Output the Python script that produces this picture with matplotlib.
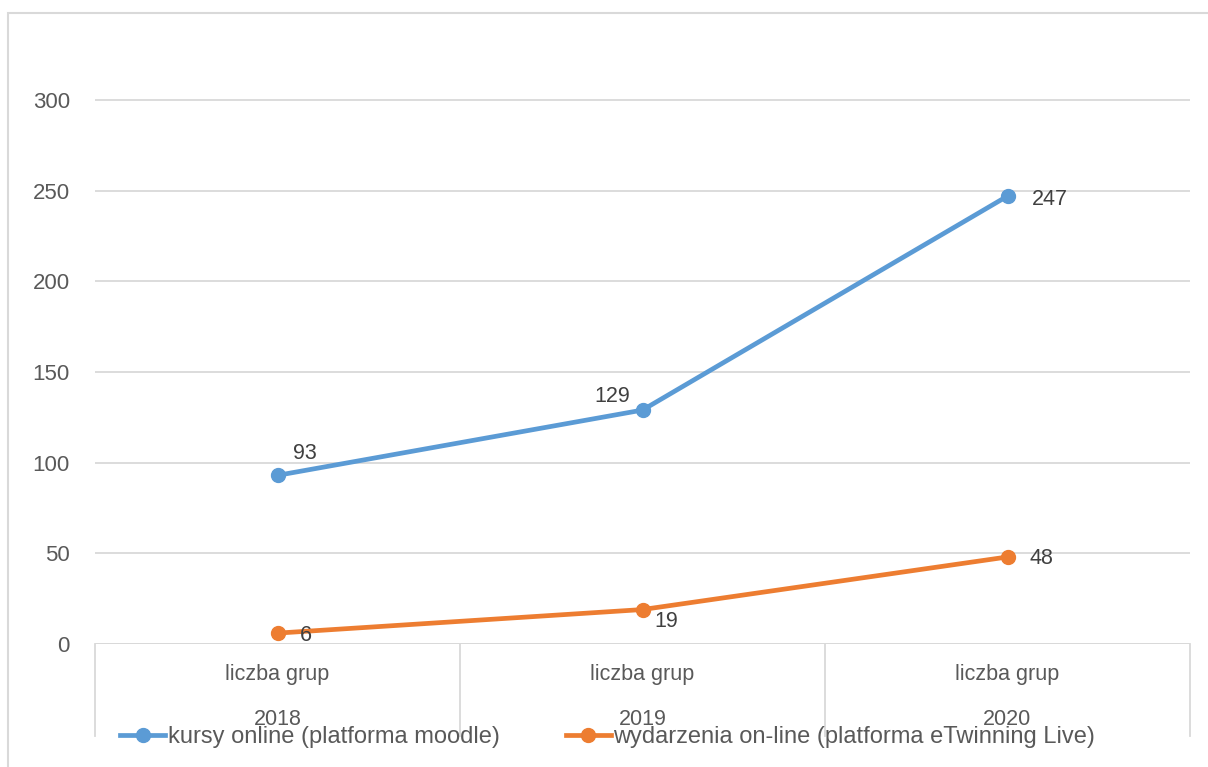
import matplotlib.pyplot as plt
import matplotlib.patches as mpatches
from matplotlib.lines import Line2D

plt.rcParams['font.family'] = ['Liberation Sans Narrow', 'Liberation Sans', 'DejaVu Sans']

years = ['2018', '2019', '2020']
group_label = 'liczba grup'
kursy = [93, 129, 247]
wydarzenia = [6, 19, 48]
label_kursy = 'kursy online (platforma moodle)'
label_wyd = 'wydarzenia on-line (platforma eTwinning Live)'

W, H = 1208, 767
fig = plt.figure(figsize=(W / 100, H / 100), dpi=100)

# plot area in pixels
left, right, bottom, top = 95, 1190, 644, 9.3
ax = fig.add_axes([left / W, 1 - bottom / H, (right - left) / W, (bottom - top) / H])

blue = '#5B9BD5'
orange = '#ED7D31'
grid_c = '#D9D9D9'
txt_c = '#595959'
fs = 16

x = list(range(len(years)))
ax.plot(x, kursy, color=blue, lw=3.4, marker='o', ms=10, solid_capstyle='round', zorder=3)
ax.plot(x, wydarzenia, color=orange, lw=3.4, marker='o', ms=10, solid_capstyle='round', zorder=3)

ax.set_xlim(-0.5, 2.5)
ax.set_ylim(0, 350)
ax.set_yticks(range(0, 301, 50))
ax.yaxis.grid(True, color=grid_c, lw=1.3)
ax.set_axisbelow(True)
for s in ax.spines.values():
    s.set_visible(False)
ax.tick_params(axis='y', length=0, pad=18, labelsize=fs, labelcolor=txt_c)
ax.set_xticks([])

# data labels
lab_c = '#404040'
offs_k = [(16, 22), (-48, 14), (24, -3)]
offs_w = [(22, -2), (12, -12), (22, -2)]
for i, v in enumerate(kursy):
    ax.annotate(str(v), (i, v), xytext=offs_k[i], textcoords='offset pixels',
                fontsize=15.5, color=lab_c, va='center', ha='left')
for i, v in enumerate(wydarzenia):
    ax.annotate(str(v), (i, v), xytext=offs_w[i], textcoords='offset pixels',
                fontsize=15.5, color=lab_c, va='center', ha='left')

# category axis: multi-level labels and separators
ax.axhline(0, color=grid_c, lw=1.3)
for b in [-0.5, 0.5, 1.5, 2.5]:
    ax.plot([b, b], [0, -50.5], color=grid_c, lw=1.3, clip_on=False)
for i, y in enumerate(years):
    ax.text(i, -17, group_label, ha='center', va='center', fontsize=15.5, color=txt_c, clip_on=False)
    ax.text(i, -41.5, y, ha='center', va='center', fontsize=15.5, color=txt_c, clip_on=False)

# chart border (cropped on right and bottom)
fig.patches.append(mpatches.Rectangle((8 / W, -0.05), 1.1, 1 - 13 / H + 0.05,
                                      transform=fig.transFigure, fill=False,
                                      edgecolor='#D9D9D9', lw=1.5))

# legend
handles = [Line2D([], [], color=blue, lw=3.4, marker='o', ms=10),
           Line2D([], [], color=orange, lw=3.4, marker='o', ms=10)]
fig.legend(handles, [label_kursy, label_wyd], loc='center', bbox_to_anchor=(0.503, 1 - 737 / H),
           ncol=2, frameon=False, fontsize=17, labelcolor=txt_c, handlelength=1.9,
           handletextpad=0.1, columnspacing=2.8)

plt.savefig('out.png', dpi=100)
